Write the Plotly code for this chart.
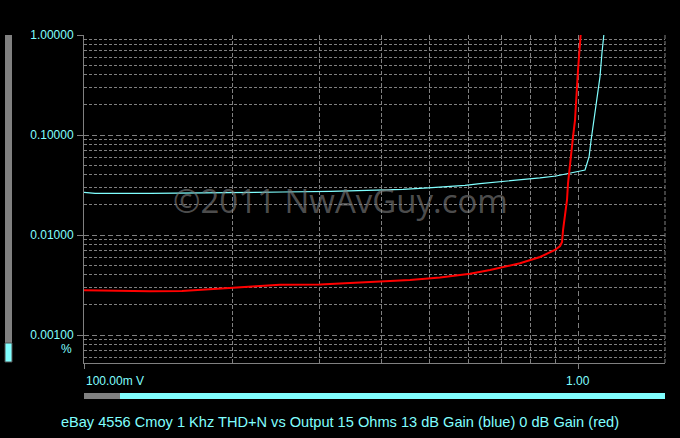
import plotly.graph_objects as go

# ---- data ----
blue_volts = [0.100, 0.1053, 0.136, 0.1884, 0.2528, 0.3162, 0.3793, 0.4424, 0.5064,
              0.5508, 0.5906, 0.6333, 0.6952, 0.7633, 0.8377, 0.9027, 0.9634, 1.0093,
              1.033, 1.038, 1.053, 1.063, 1.073, 1.088, 1.098, 1.108, 1.118, 1.123, 1.129]
blue_thd = [0.0267, 0.0261, 0.0261, 0.0263, 0.0269, 0.0273, 0.0280, 0.0286, 0.0298,
            0.0305, 0.0314, 0.0327, 0.0340, 0.0355, 0.0372, 0.0389, 0.0413, 0.0432,
            0.0447, 0.0481, 0.0608, 0.0891, 0.121, 0.192, 0.261, 0.384, 0.656, 0.891, 1.05]

red_volts = [0.100, 0.1113, 0.136, 0.1579, 0.1717, 0.1858, 0.2040, 0.2229, 0.2493,
             0.3005, 0.3456, 0.3973, 0.457, 0.5256, 0.6045, 0.6636, 0.7115, 0.7633,
             0.8377, 0.8983, 0.9197, 0.9283, 0.9326, 0.9414, 0.9500, 0.9545, 0.9590,
             0.9679, 0.9771, 0.9861, 0.9908, 0.9954, 1.0, 1.0047, 1.0093, 1.0140]
red_thd = [0.00280, 0.00277, 0.00274, 0.00275, 0.00284, 0.00290, 0.00299, 0.00308, 0.00318,
           0.00320, 0.00330, 0.00340, 0.00355, 0.00376, 0.00409, 0.00447, 0.00479, 0.00521,
           0.00603, 0.00708, 0.00776, 0.00851, 0.01122, 0.01521, 0.0224, 0.0329, 0.0417,
           0.0661, 0.0962, 0.141, 0.192, 0.304, 0.447, 0.688, 1.0, 1.12]

y_major = [0.001, 0.01, 0.1, 1.0]
y_major_text = ["0.00100", "0.01000", "0.10000", "1.00000"]
y_minor = [m * d for d in [0.0001, 0.001, 0.01, 0.1] for m in range(2, 10)]
x_minor = [0.2, 0.3, 0.4, 0.5, 0.6, 0.7, 0.8, 0.9]
x_labels = ["100.00m V", "1.00"]
title_text = "eBay 4556 Cmoy 1 Khz THD+N vs Output 15 Ohms 13 dB Gain (blue) 0 dB Gain (red)"
watermark = "©2011 NwAvGuy.com"

CYAN = "#80ffff"
GRID = "#808080"
FONT = "Liberation Sans, Arial, sans-serif"

fig = go.Figure()
fig.add_trace(go.Scatter(x=blue_volts, y=blue_thd, mode="lines",
                         line=dict(color=CYAN, width=1.2), hoverinfo="skip"))
fig.add_trace(go.Scatter(x=red_volts, y=red_thd, mode="lines",
                         line=dict(color="#ff0000", width=2), hoverinfo="skip"))

fig.update_layout(
    width=680, height=438,
    margin=dict(l=84, r=15, t=35, b=75),
    paper_bgcolor="black", plot_bgcolor="black",
    showlegend=False,
    font=dict(family=FONT, color=CYAN, size=12),
    title=dict(text=title_text, x=0.5, xref="container", xanchor="center",
               y=1 - 422 / 438, yref="container", yanchor="middle",
               font=dict(family=FONT, size=14.6, color=CYAN)),
)

fig.update_xaxes(
    type="log", range=[-1, 0.17609],
    showline=True, linecolor=GRID, linewidth=1,
    tickvals=[0.1, 1.0], ticks="outside", ticklen=5, tickcolor=GRID,
    showticklabels=False,
    showgrid=True, gridcolor=GRID, griddash="5px,3px", gridwidth=1,
    minor=dict(tickvals=x_minor, showgrid=True, gridcolor=GRID,
               griddash="4px,2px", gridwidth=1, ticks=""),
    zeroline=False, fixedrange=True,
)
fig.update_yaxes(
    type="log", range=[-3.28, 0],
    showline=True, linecolor=GRID, linewidth=1,
    tickvals=y_major, ticktext=y_major_text,
    ticks="outside", ticklen=6, tickcolor=GRID,
    ticklabelstandoff=1,
    tickfont=dict(family=FONT, size=12, color=CYAN),
    showgrid=True, gridcolor=GRID, griddash="5px,3px", gridwidth=1,
    minor=dict(tickvals=y_minor, showgrid=True, gridcolor=GRID,
               griddash="3px,2px", gridwidth=1, ticks=""),
    zeroline=False, fixedrange=True,
)

pw, ph = 581.0, 328.0
def px(xp):
    return (xp - 84) / pw
def py(yp):
    return (363 - yp) / ph

shapes = [
    dict(type="line", xref="paper", yref="paper", x0=1, x1=1, y0=0, y1=1,
         line=dict(color=GRID, width=1, dash="4px,2px")),
    dict(type="rect", xref="paper", yref="paper", x0=px(5), x1=px(12), y0=py(343), y1=py(35),
         fillcolor="#808080", line=dict(width=0)),
    dict(type="rect", xref="paper", yref="paper", x0=px(5), x1=px(12), y0=py(362), y1=py(343),
         fillcolor=CYAN, line=dict(color="#505050", width=1)),
    dict(type="rect", xref="paper", yref="paper", x0=px(84), x1=px(120), y0=py(399), y1=py(393),
         fillcolor="#808080", line=dict(width=0)),
    dict(type="rect", xref="paper", yref="paper", x0=px(120), x1=px(665), y0=py(399), y1=py(393),
         fillcolor=CYAN, line=dict(width=0)),
]
fig.update_layout(shapes=shapes)

annotations = [
    dict(text=x_labels[0], x=-1, xref="x", y=py(381), yref="paper",
         xanchor="left", yanchor="middle", showarrow=False,
         font=dict(family=FONT, size=12, color=CYAN)),
    dict(text=x_labels[1], x=0, xref="x", y=py(381), yref="paper",
         xanchor="center", yanchor="middle", showarrow=False,
         font=dict(family=FONT, size=12, color=CYAN)),
    dict(text="%", x=px(74), xref="paper", y=py(349), yref="paper",
         xanchor="right", yanchor="middle", showarrow=False,
         font=dict(family=FONT, size=12, color=CYAN)),
    dict(text=watermark, x=px(340), xref="paper", y=py(200), yref="paper",
         xanchor="center", yanchor="middle", showarrow=False,
         font=dict(family="Open Sans, sans-serif", size=33, color="rgba(128,128,128,0.62)")),
]
fig.update_layout(annotations=annotations)

fig.write_html("out.html", config={"displayModeBar": False},
               post_script="document.body.style.margin='0';")
